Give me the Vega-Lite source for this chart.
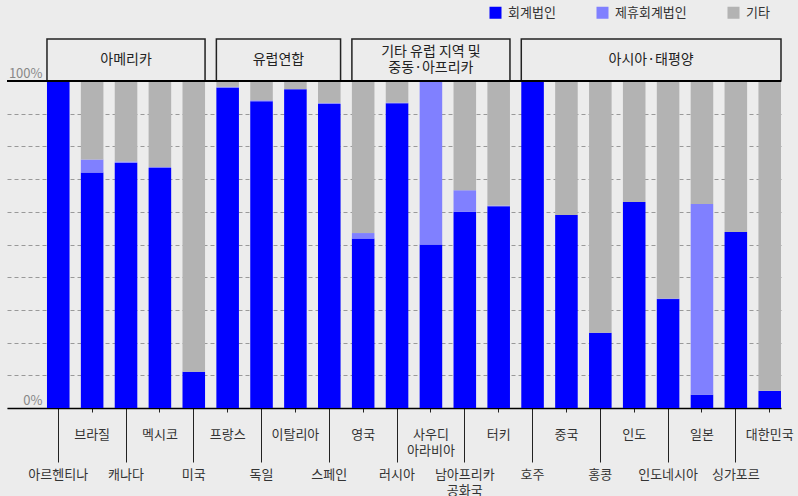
{
  "$schema": "https://vega.github.io/schema/vega-lite/v6.json",
  "background": "#ECECEC",
  "padding": {"left": 6, "top": 6, "right": 10, "bottom": 0},
  "bounds": "flush",
  "config": {
    "view": {"stroke": null},
    "font": "Noto Sans CJK KR",
    "concat": {"spacing": 0}
  },
  "datasets": {
    "headers": [
      {"group": "아메리카", "first": "아르헨티나", "last": "미국", "mid": "캐나다", "even": false, "lines": 1},
      {"group": "유럽연합", "first": "프랑스", "last": "스페인", "mid": "독일", "even": true, "lines": 1},
      {"group": "기타 유럽 지역 및\n중동·아프리카", "first": "영국", "last": "터키", "mid": "사우디 아라비아", "even": false, "lines": 2},
      {"group": "아시아·태평양", "first": "호주", "last": "대한민국", "mid": "인도", "even": true, "lines": 1}
    ],
    "shares": [
      {"country": "아르헨티나", "type": "회계법인", "value": 100},
      {"country": "아르헨티나", "type": "제휴회계법인", "value": 0},
      {"country": "아르헨티나", "type": "기타", "value": 0},
      {"country": "브라질", "type": "회계법인", "value": 72},
      {"country": "브라질", "type": "제휴회계법인", "value": 4},
      {"country": "브라질", "type": "기타", "value": 24},
      {"country": "캐나다", "type": "회계법인", "value": 75},
      {"country": "캐나다", "type": "제휴회계법인", "value": 0.4},
      {"country": "캐나다", "type": "기타", "value": 24.6},
      {"country": "멕시코", "type": "회계법인", "value": 73.4},
      {"country": "멕시코", "type": "제휴회계법인", "value": 0.3},
      {"country": "멕시코", "type": "기타", "value": 26.3},
      {"country": "미국", "type": "회계법인", "value": 11.1},
      {"country": "미국", "type": "제휴회계법인", "value": 0},
      {"country": "미국", "type": "기타", "value": 88.9},
      {"country": "프랑스", "type": "회계법인", "value": 97.9},
      {"country": "프랑스", "type": "제휴회계법인", "value": 0.3},
      {"country": "프랑스", "type": "기타", "value": 1.8},
      {"country": "독일", "type": "회계법인", "value": 93.8},
      {"country": "독일", "type": "제휴회계법인", "value": 0.3},
      {"country": "독일", "type": "기타", "value": 5.9},
      {"country": "이탈리아", "type": "회계법인", "value": 97.5},
      {"country": "이탈리아", "type": "제휴회계법인", "value": 0},
      {"country": "이탈리아", "type": "기타", "value": 2.5},
      {"country": "스페인", "type": "회계법인", "value": 93.0},
      {"country": "스페인", "type": "제휴회계법인", "value": 0.3},
      {"country": "스페인", "type": "기타", "value": 6.7},
      {"country": "영국", "type": "회계법인", "value": 51.8},
      {"country": "영국", "type": "제휴회계법인", "value": 1.7},
      {"country": "영국", "type": "기타", "value": 46.5},
      {"country": "러시아", "type": "회계법인", "value": 93.2},
      {"country": "러시아", "type": "제휴회계법인", "value": 0.2},
      {"country": "러시아", "type": "기타", "value": 6.6},
      {"country": "사우디 아라비아", "type": "회계법인", "value": 50},
      {"country": "사우디 아라비아", "type": "제휴회계법인", "value": 50},
      {"country": "사우디 아라비아", "type": "기타", "value": 0},
      {"country": "남아프리카 공화국", "type": "회계법인", "value": 60.0},
      {"country": "남아프리카 공화국", "type": "제휴회계법인", "value": 6.6},
      {"country": "남아프리카 공화국", "type": "기타", "value": 33.4},
      {"country": "터키", "type": "회계법인", "value": 61.7},
      {"country": "터키", "type": "제휴회계법인", "value": 0.2},
      {"country": "터키", "type": "기타", "value": 38.1},
      {"country": "호주", "type": "회계법인", "value": 100},
      {"country": "호주", "type": "제휴회계법인", "value": 0},
      {"country": "호주", "type": "기타", "value": 0},
      {"country": "중국", "type": "회계법인", "value": 59.0},
      {"country": "중국", "type": "제휴회계법인", "value": 0},
      {"country": "중국", "type": "기타", "value": 41.0},
      {"country": "홍콩", "type": "회계법인", "value": 23.0},
      {"country": "홍콩", "type": "제휴회계법인", "value": 0},
      {"country": "홍콩", "type": "기타", "value": 77.0},
      {"country": "인도", "type": "회계법인", "value": 63.0},
      {"country": "인도", "type": "제휴회계법인", "value": 0},
      {"country": "인도", "type": "기타", "value": 37.0},
      {"country": "인도네시아", "type": "회계법인", "value": 33.3},
      {"country": "인도네시아", "type": "제휴회계법인", "value": 0.2},
      {"country": "인도네시아", "type": "기타", "value": 66.5},
      {"country": "일본", "type": "회계법인", "value": 4.1},
      {"country": "일본", "type": "제휴회계법인", "value": 58.3},
      {"country": "일본", "type": "기타", "value": 37.6},
      {"country": "싱가포르", "type": "회계법인", "value": 53.8},
      {"country": "싱가포르", "type": "제휴회계법인", "value": 0},
      {"country": "싱가포르", "type": "기타", "value": 46.2},
      {"country": "대한민국", "type": "회계법인", "value": 5.2},
      {"country": "대한민국", "type": "제휴회계법인", "value": 0.1},
      {"country": "대한민국", "type": "기타", "value": 94.7}
    ]
  },
  "resolve": {"scale": {"x": "shared"}},
  "vconcat": [
    {
      "width": 774,
      "height": 42,
      "data": {"name": "headers"},
      "layer": [
        {
          "mark": {"type": "rect", "fill": "#ECECEC", "stroke": "#222222", "strokeWidth": 1.5},
          "encoding": {
            "x": {"field": "first", "type": "nominal", "bandPosition": 0,
                  "scale": {"domain": ["아르헨티나","브라질","캐나다","멕시코","미국","프랑스","독일","이탈리아","스페인","영국","러시아","사우디 아라비아","남아프리카 공화국","터키","호주","중국","홍콩","인도","인도네시아","일본","싱가포르","대한민국"], "paddingInner": 0.334, "paddingOuter": 0.59, "align": 1},
                  "axis": null},
            "x2": {"field": "last", "bandPosition": 1}
          }
        },
        {
          "transform": [{"filter": "!datum.even && datum.lines == 1"}],
          "mark": {"type": "text", "fontSize": 14, "color": "#222222", "baseline": "middle"},
          "encoding": {
            "x": {"field": "mid", "type": "nominal", "bandPosition": 0.5, "axis": null},
            "text": {"field": "group"}
          }
        },
        {
          "transform": [{"filter": "datum.lines == 2"}],
          "mark": {"type": "text", "fontSize": 14, "color": "#222222", "lineBreak": "\n", "lineHeight": 15.5, "baseline": "middle", "dy": -8},
          "encoding": {
            "x": {"field": "mid", "type": "nominal", "bandPosition": 0.5, "axis": null},
            "text": {"field": "group"}
          }
        },
        {
          "transform": [{"filter": "datum.even"}],
          "mark": {"type": "text", "fontSize": 14, "color": "#222222", "baseline": "middle"},
          "encoding": {
            "x": {"field": "mid", "type": "nominal", "bandPosition": 1.25, "axis": null},
            "text": {"field": "group"}
          }
        }
      ]
    },
    {
      "width": 774,
      "height": 327,
      "data": {"name": "shares"},
      "layer": [
        {
          "mark": {"type": "bar"},
          "encoding": {
            "x": {"field": "country", "type": "nominal",
                  "scale": {"domain": ["아르헨티나","브라질","캐나다","멕시코","미국","프랑스","독일","이탈리아","스페인","영국","러시아","사우디 아라비아","남아프리카 공화국","터키","호주","중국","홍콩","인도","인도네시아","일본","싱가포르","대한민국"], "paddingInner": 0.334, "paddingOuter": 0.59, "align": 1},
                  "axis": {
                    "title": null,
                    "domainColor": "#000000",
                    "domainWidth": 1.5,
                    "tickColor": "#222222",
                    "tickWidth": 1,
                    "tickSize": {"condition": {"test": "round(datum.index*21)%2==0", "value": 54}, "value": 4},
                    "labelPadding": {"condition": {"test": "round(datum.index*21)%2==0", "value": 6}, "value": 16},
                    "labelAngle": 0,
                    "labelFontSize": 13,
                    "labelColor": "#333333",
                    "labelBaseline": "top",
                    "labelLineHeight": 16.5,
                    "labelExpr": "split(datum.label, ' ')",
                    "labelOverlap": false,
                    "labelLimit": 0
                  }},
            "y": {"field": "value", "type": "quantitative", "stack": "zero",
                  "scale": {"domain": [0, 100], "nice": false},
                  "axis": {
                    "title": null,
                    "values": [0, 10, 20, 30, 40, 50, 60, 70, 80, 90, 100],
                    "tickCount": 11,
                    "domain": false,
                    "ticks": false,
                    "grid": true,
                    "gridColor": "#999999",
                    "gridDash": [4, 3],
                    "gridWidth": 1.2,
                    "labelExpr": "datum.value == 0 || datum.value == 100 ? datum.value + '%' : ''",
                    "labelAlign": "right",
                    "labelBaseline": "alphabetic",
                    "labelPadding": -35,
                    "labelOffset": -4,
                    "labelColor": "#888888",
                    "labelFontSize": 13,
                    "labelOverlap": false
                  }},
            "color": {"field": "type", "type": "nominal",
                      "sort": ["회계법인", "제휴회계법인", "기타"],
                      "scale": {"domain": ["회계법인", "제휴회계법인", "기타"], "range": ["#0000FF", "#8080FF", "#B3B3B3"]},
                      "legend": {
                        "title": null,
                        "orient": "none",
                        "legendX": 482,
                        "legendY": -33,
                        "direction": "horizontal",
                        "symbolType": "square",
                        "symbolSize": 144,
                        "symbolStrokeWidth": 0,
                        "labelFontSize": 13,
                        "labelColor": "#333333",
                        "labelOffset": 6,
                        "columnPadding": 40
                      }}
          }
        },
        {
          "mark": {"type": "rule", "color": "#000000", "strokeWidth": 1.5},
          "encoding": {"y": {"datum": 100}}
        }
      ]
    }
  ]
}
